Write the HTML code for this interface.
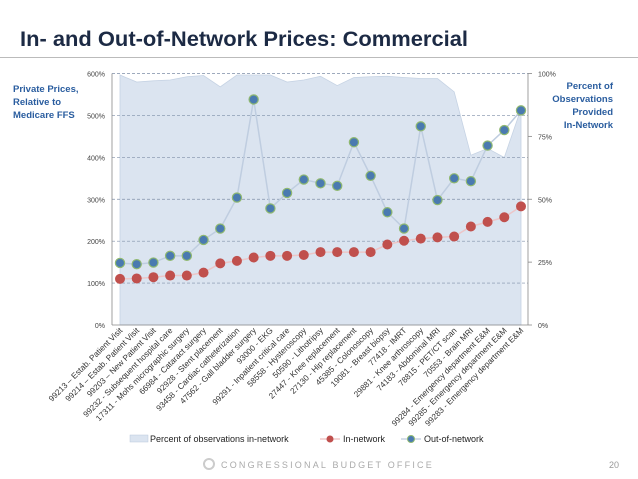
<!DOCTYPE html>
<html><head><meta charset="utf-8"><style>
body{margin:0;background:#fff;}
svg{display:block;font-family:"Liberation Sans",sans-serif;}
</style></head><body>
<svg id="chart" width="638" height="479" viewBox="0 0 638 479">
<text x="20" y="46" font-size="21" font-weight="bold" fill="#1c2a44" textLength="448" lengthAdjust="spacingAndGlyphs">In- and Out-of-Network Prices:  Commercial</text>
<line x1="0" y1="57.5" x2="638" y2="57.5" stroke="#bbb" stroke-width="1"/>
<g font-size="9.5" fill="#2a5d9f" font-weight="bold">
<text x="13" y="92">Private Prices,</text><text x="13" y="105">Relative to</text><text x="13" y="118">Medicare FFS</text></g>
<g font-size="9.5" fill="#2a5d9f" font-weight="bold" text-anchor="end">
<text x="613" y="89">Percent of</text><text x="613" y="102">Observations</text><text x="613" y="115">Provided</text><text x="613" y="128">In-Network</text></g>
<g id="plot"></g>
<g font-size="9" fill="#222">
<rect x="130" y="435" width="18" height="7" fill="#dbe4f0" stroke="#b9c8dc" stroke-width="0.5"/>
<text x="150" y="442">Percent of observations in-network</text>
<line x1="320" y1="439" x2="340" y2="439" stroke="#f0c8c8" stroke-width="1.5"/>
<circle cx="330" cy="439" r="3.5" fill="#c0504d"/>
<text x="343" y="442">In-network</text>
<line x1="401" y1="439" x2="421" y2="439" stroke="#c8d4e2" stroke-width="1.5"/>
<circle cx="411" cy="439" r="3.5" fill="#4a7ab0" stroke="#8fb870" stroke-width="1"/>
<text x="424" y="442">Out-of-network</text>
</g>
<circle cx="209" cy="464" r="5" fill="none" stroke="#ccc" stroke-width="2"/>
<text x="221" y="468" font-size="9" fill="#aaa" letter-spacing="2.2">CONGRESSIONAL BUDGET OFFICE</text>
<text x="609" y="468" font-size="9" fill="#999">20</text>
</svg>
<script>
const categories=["99213 – Estab. Patient Visit","99214 – Estab. Patient Visit","99203 – New Patient Visit","99232 - Subsequent hospital care","17311 - Mohs micrographic surgery","66984 - Cataract surgery","92928 - Stent placement","93458 - Cardiac catheterization","47562 - Gall bladder surgery","93000 - EKG","99291 - Inpatient critical care","58558 - Hysteroscopy","50590 - Lithotripsy","27447 - Knee replacement","27130 - Hip replacement","45385 - Colonoscopy","19081 - Breast biopsy","77418 - IMRT","29881 - Knee arthroscopy","74183 - Abdominal MRI","78815 - PET/CT scan","70553 - Brain MRI","99284 - Emergency department E&M","99285 - Emergency department E&M","99283 - Emergency department E&M"];
const inNetwork=[110,111,114,118,118,125,147,153,161,165,165,167,174,174,174,174,192,201,206,209,211,235,246,257,283];
const outNetwork=[148,145,149,165,165,203,230,304,538,278,315,347,338,332,436,356,269,230,474,298,350,343,428,465,512];
const pctInNetwork=[99.4,96.6,97.1,97.4,98.7,99.2,94.7,99.4,99.4,99.4,96.6,97.4,98.9,95.2,98.4,98.7,98.9,98.4,98,98,92.7,67.5,70.2,66.6,86];
const leftTicks=[0,100,200,300,400,500,600];
const rightTicks=[0,25,50,75,100];
const NS="http://www.w3.org/2000/svg";
const g=document.getElementById('plot');
const X0=112,X1=528,Y0=325,Y1=73.5,PX0=120,PX1=521;
function xs(i){return PX0+(PX1-PX0)*i/(categories.length-1);}
function yl(v){return Y0-(Y0-Y1)*v/600;}
function yr(v){return Y0-(Y0-Y1)*v/100;}
function mk(t,a){const e=document.createElementNS(NS,t);for(const k in a)e.setAttribute(k,a[k]);g.appendChild(e);return e;}
let d=`M${xs(0)},${Y0}`;pctInNetwork.forEach((v,i)=>{d+=` L${xs(i)},${yr(v)}`;});d+=` L${xs(categories.length-1)},${Y0} Z`;
const area=mk('path',{d:d,fill:'#dbe4f0',stroke:'#c6d3e4','stroke-width':0.8});


leftTicks.forEach(t=>{
 if(t>0){const l=mk('line',{x1:X0,x2:X1,y1:yl(t),y2:yl(t),stroke:'#7f8fa8','stroke-width':0.7,'stroke-dasharray':'3,2'});
 
 }
 const tx=mk('text',{x:X0-7,y:yl(t)+3,'font-size':7,'text-anchor':'end',fill:'#444'});tx.textContent=t+'%';
 
 
});
rightTicks.forEach(t=>{
 mk('line',{x1:X1,x2:X1+4,y1:yr(t),y2:yr(t),stroke:'#888','stroke-width':0.8});
 const tx=mk('text',{x:X1+10,y:yr(t)+3,'font-size':7,fill:'#444'});tx.textContent=t+'%';
 
 
});
mk('line',{x1:X0,x2:X0,y1:Y1,y2:Y0,stroke:'#888','stroke-width':0.8});
mk('line',{x1:X1,x2:X1,y1:Y1,y2:Y0,stroke:'#888','stroke-width':0.8});
mk('line',{x1:X0,x2:X1,y1:Y0,y2:Y0,stroke:'#888','stroke-width':0.8});
function poly(arr,col){return mk('polyline',{points:arr.map((v,i)=>xs(i)+','+yl(v)).join(' '),fill:'none',stroke:col,'stroke-width':1.5});}
const l1=poly(outNetwork,'#bfcde0');


const l2=poly(inNetwork,'#ecc6c8');


outNetwork.forEach((v,i)=>{const c=mk('circle',{cx:xs(i),cy:yl(v),r:4.6,fill:'#4a7ab0',stroke:'#8fb870','stroke-width':1.2});
 
 });
inNetwork.forEach((v,i)=>{const c=mk('circle',{cx:xs(i),cy:yl(v),r:5,fill:'#c0504d'});
 
 });
categories.forEach((c,i)=>{const x=xs(i)+3,y=331;
 const t=mk('text',{x:x,y:y,'font-size':8.2,'text-anchor':'end',fill:'#333',transform:`rotate(-45 ${x} ${y})`});t.textContent=c;
 
 });
</script>
</body></html>
